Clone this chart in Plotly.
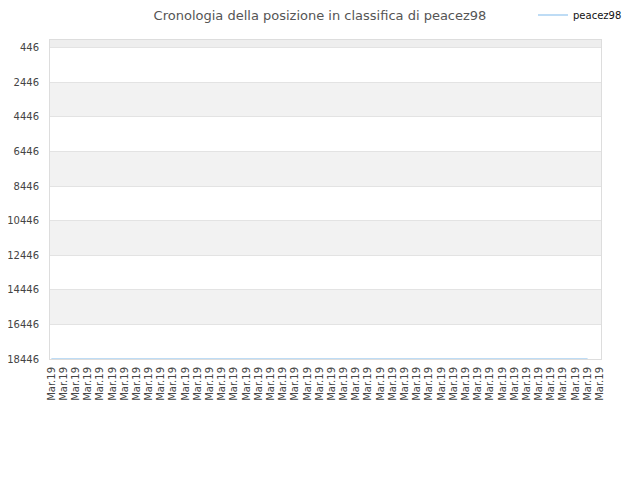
import plotly.graph_objects as go

# ── Data ──────────────────────────────────────────────────────────────────────
player = "peacez98"
x_labels = ["Mar.19"] * 46
# ranking position per snapshot; the last slot has no value
positions = [18446] * 45 + [None]
y_ticks = [446, 2446, 4446, 6446, 8446, 10446, 12446, 14446, 16446, 18446]

x_idx = list(range(len(x_labels)))

# the page body adds an 8px margin, so layout is laid out 8px up/left
OFF = 8

fig = go.Figure()
fig.add_trace(go.Scatter(
    x=x_idx, y=positions, mode="lines", name=player,
    line=dict(color="#a9d0f2", width=1.5),
    connectgaps=False,
))

# alternating grey bands between grid lines (one above the top tick too)
shapes = []
y_top = 0
bands = [(y_top, y_ticks[0])] + list(zip(y_ticks[:-1], y_ticks[1:]))
for i, (a, b) in enumerate(bands):
    if i % 2 == 0:
        shapes.append(dict(
            type="rect", xref="paper", yref="y", x0=0, x1=1, y0=a, y1=b,
            fillcolor="#eeeeee" if i == 0 else "#f2f2f2",
            line=dict(width=0), layer="below",
        ))

fig.update_layout(
    width=640, height=480,
    margin=dict(l=50 - OFF, r=39 + OFF, t=40 - OFF, b=121 + OFF, autoexpand=False),
    paper_bgcolor="white", plot_bgcolor="white",
    font=dict(family="DejaVu Sans", size=10, color="#555555"),
    title=dict(
        text=f"Cronologia della posizione in classifica di {player}",
        x=(320 - OFF) / 640, xref="container", xanchor="center",
        y=1 - 7.5 / 480, yref="container", yanchor="middle",
        font=dict(size=13, color="#555555"),
    ),
    showlegend=True,
    legend=dict(
        x=(573 - OFF - 40) / 640, xref="container", xanchor="left",
        y=1 - (15 - OFF) / 480, yref="container", yanchor="middle",
        font=dict(size=10, color="#111111"),
        bgcolor="rgba(0,0,0,0)",
    ),
    shapes=shapes,
)

fig.update_xaxes(
    tickmode="array", tickvals=x_idx, ticktext=x_labels,
    tickangle=-90, range=[-0.11, len(x_labels) - 1 + 0.1],
    showgrid=False, zeroline=False, automargin=False,
    showline=True, linecolor="#dddddd", mirror=True,
    ticks="", ticklabelstandoff=3, tickfont=dict(size=10, color="#444444"),
)
fig.update_yaxes(
    tickmode="array", tickvals=y_ticks, ticktext=[str(v) for v in y_ticks],
    range=[y_ticks[-1], y_top],
    showgrid=True, gridcolor="#e3e3e3", gridwidth=1, zeroline=False,
    automargin=False,
    showline=True, linecolor="#dddddd", mirror=True,
    ticks="", ticklabelstandoff=8, tickfont=dict(size=10, color="#444444"),
)

fig.write_html("out.html")
